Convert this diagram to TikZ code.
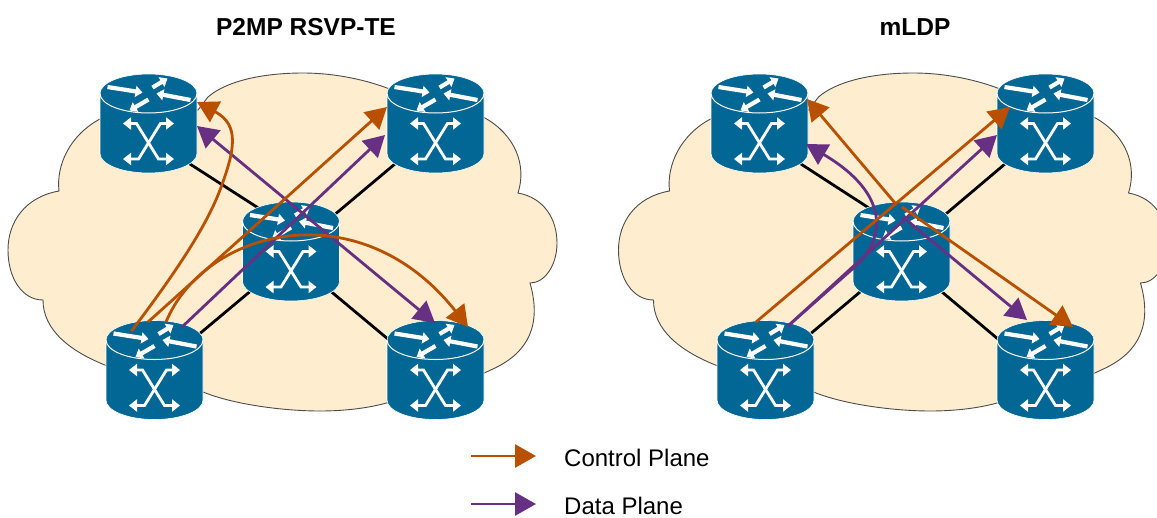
\documentclass[tikz,border=0pt]{standalone}
\usepackage{fontspec}
\setmainfont{Liberation Sans}
\usetikzlibrary{arrows.meta,calc}

\definecolor{cloudfill}{RGB}{254,237,206}
\definecolor{routerblue}{RGB}{3,103,150}
\definecolor{ctrlorange}{RGB}{184,80,0}
\definecolor{datapurple}{RGB}{104,48,130}

\tikzset{
	cloudshape/.style={fill=cloudfill,draw=black!70,line width=0.9},
	link/.style={draw=black,line width=2.8},
	rtr/.style={inner sep=0,minimum width=97,minimum height=99},
	glyph/.style={white,line width=4.2,line join=miter,-{Triangle[length=7,width=11]}},
	xglyph/.style={white,line width=2.8,line join=miter,{Triangle[length=8,width=12]}-{Triangle[length=8,width=12]}},
	ctrl/.style={draw=ctrlorange,line width=2.8,-{Triangle[length=21,width=23,fill=ctrlorange]}},
	data/.style={draw=datapurple,line width=2.8,-{Triangle[length=21,width=23,fill=datapurple]}},
	title/.style={font=\fontsize{24.5}{28}\selectfont\bfseries},
	lbl/.style={font=\fontsize{24}{27}\selectfont,anchor=west,inner sep=0},
	router/.pic={
		\fill[routerblue,draw=white,line width=0.6] (-48.5,-30) -- (-48.5,30) arc (180:360:48.5 and -19.5)
			-- (48.5,-30) arc (0:180:48.5 and -19.5) -- cycle;
		\draw[white,line width=1] (-48.5,-30) arc (180:360:48.5 and -19.5);
		\draw[glyph] (-41,-36.5) -- (-6,-31);
		\draw[glyph] (4,-36) -- (19,-45);
		\draw[glyph] (42,-23.5) -- (8,-30);
		\draw[glyph] (0,-24) -- (-19,-13);
		\draw[xglyph] (-25.5,0) -- (-12,0) -- (10,35.5) -- (25.5,35.5);
		\draw[xglyph] (25.5,0) -- (12,0) -- (-10,35.5) -- (-25.5,35.5);
	}
}

\newcommand{\router}[3]{\node[rtr] (#1) at (#2,#3) {}; \pic at (#1) {router};}

\begin{document}
\begin{tikzpicture}[x=1pt,y=-1pt]
\useasboundingbox (0,0) rectangle (1157,517);

% clouds
\begin{scope}
\clip (0,0) rectangle (1157,517);
\foreach \dx in {0,610.5}{
\draw[cloudshape,xshift=\dx] (100,119)
	.. controls (70,135) and (56,165) .. (59,191)
	.. controls (25,197) and (8,222) .. (8,250)
	.. controls (8,278) and (22,300) .. (43,300)
	.. controls (43,330) and (70,352) .. (110,367)
	-- (203,392)
	.. controls (235,405) and (285,411) .. (320,411)
	.. controls (345,411) and (370,408) .. (390,402)
	-- (480,375) -- (495,368)
	.. controls (528,352) and (542,325) .. (530,283)
	.. controls (545,283) and (557,265) .. (557,243)
	.. controls (557,220) and (545,198) .. (518,193)
	.. controls (527,165) and (515,135) .. (485,118)
	-- (387,88)
	.. controls (360,78) and (330,73) .. (303,73)
	.. controls (260,73) and (225,82) .. (208,97)
	-- (198,110) -- cycle;
}
\end{scope}

% left routers
\coordinate (ltl) at (148.5,123.5);
\coordinate (ltr) at (435.5,123.5);
\coordinate (lhub) at (291,251.5);
\coordinate (lbl) at (154.5,370);
\coordinate (lbr) at (435.5,370);
% right routers
\coordinate (rtl) at (759.5,123.5);
\coordinate (rtr) at (1045.5,123.5);
\coordinate (rhub) at (901.5,251.5);
\coordinate (rbl) at (765.5,370);
\coordinate (rbr) at (1045.5,370);

% links
\foreach \p in {l,r}{
\draw[link] ($(\p hub)+(-21,-36)$) -- ($(\p tl)+(36,37)$);
\draw[link] ($(\p hub)+(39,-33)$) -- ($(\p tr)+(-40,40)$);
\draw[link] ($(\p hub)+(-35,35)$) -- ($(\p bl)+(40,-32)$);
\draw[link] ($(\p hub)+(34,35)$) -- ($(\p br)+(-44,-28)$);
}

\router{tlA}{148.5}{123.5}
\router{trA}{435.5}{123.5}
\router{hubA}{291}{251.5}
\router{blA}{154.5}{370}
\router{brA}{435.5}{370}
\router{tlB}{759.5}{123.5}
\router{trB}{1045.5}{123.5}
\router{hubB}{901.5}{251.5}
\router{blB}{765.5}{370}
\router{brB}{1045.5}{370}

% P2MP RSVP-TE
\draw[data] ($(blA)+(27.5,-43)$) -- ($(trA)+(-50.5,11.5)$);
\draw[data,{Triangle[length=21,width=23,fill=datapurple]}-{Triangle[length=21,width=23,fill=datapurple]}] ($(tlA)+(48.5,2.5)$) -- ($(brA)+(-0.5,-47)$);
\draw[ctrl] ($(blA)+(-23,-39)$) .. controls (170,280) and (205,230) .. (220,190)
	.. controls (235,150) and (240,125) .. ($(tlA)+(48.5,-21.5)$);
\draw[ctrl] ($(blA)+(-6.5,-48)$) -- ($(trA)+(-48.5,-16.5)$);
\draw[ctrl] ($(blA)+(11.5,-48)$) .. controls (205,228) and (360,190) .. ($(brA)+(32.5,-43)$);

% mLDP
\draw[data] ($(blB)+(22.5,-44)$) -- ($(trB)+(-48.5,11.5)$);
\draw[data] ($(blB)+(22.5,-44)$) -- (853.5,268) .. controls (885,240) and (892,195) .. ($(tlB)+(46.5,20.5)$);
\draw[data] ($(hubB)+(1.5,-34.5)$) -- ($(brB)+(-18.5,-50)$);
\draw[ctrl] ($(blB)+(-9.5,-48)$) -- ($(trB)+(-35.5,-16.5)$);
\draw[ctrl] ($(hubB)+(-6.5,-48.5)$) -- ($(tlB)+(47.5,-24.5)$);
\draw[ctrl] ($(hubB)+(0.5,-44.5)$) -- ($(brB)+(27.5,-43)$);

% titles
\node[title] (titleA) at (306,27) {P2MP RSVP-TE};
\node[title] (titleB) at (915,27) {mLDP};

% legend
\coordinate (ctrlfrom) at (471,456);
\coordinate (ctrlto) at (536,456);
\coordinate (datafrom) at (471,504);
\coordinate (datato) at (536,504);
\draw[ctrl] (ctrlfrom) -- (ctrlto);
\draw[data] (datafrom) -- (datato);
\node[lbl] (ctrllabel) at (564,458) {Control Plane};
\node[lbl] (datalabel) at (564,505.5) {Data Plane};

\end{tikzpicture}
\end{document}
